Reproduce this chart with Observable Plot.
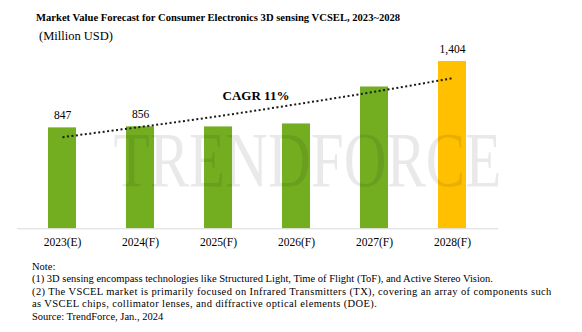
<!DOCTYPE html>
<html><head><meta charset="utf-8">
<script src="https://cdn.jsdelivr.net/npm/d3@7"></script>
<script src="https://cdn.jsdelivr.net/npm/@observablehq/plot@0.6"></script>
<style>
body{margin:0;background:#fff;width:582px;height:332px;overflow:hidden;font-family:"Liberation Serif","Times New Roman",Times,"DejaVu Serif",serif;color:#000}
#title{position:absolute;left:36px;top:11px;font-size:10.6px;font-weight:bold;line-height:14px;white-space:nowrap}
#subtitle{position:absolute;left:39px;top:29px;font-size:12.5px;line-height:14px;white-space:nowrap}
#chart{position:absolute;left:0;top:44px}
#notes{position:absolute;left:32px;top:261px;font-size:10.5px;line-height:12.4px;white-space:nowrap}
#notes .wide{letter-spacing:0.38px}
#chart svg, #chart svg text{font-family:"Liberation Serif","Times New Roman",Times,"DejaVu Serif",serif}
</style></head><body>
<div id="chart"></div><div id="title"></div><div id="subtitle"></div><div id="notes"></div>
<script>
const title = "Market Value Forecast for Consumer Electronics 3D sensing VCSEL, 2023~2028";
const subtitle = "(Million USD)";
const years = ["2023(E)", "2024(F)", "2025(F)", "2026(F)", "2027(F)", "2028(F)"];
const values = [847, 856, 855, 880, 1190, 1404];
const valueLabels = ["847", "856", "", "", "", "1,404"];
const barColors = ["#73ae21", "#73ae21", "#73ae21", "#73ae21", "#73ae21", "#ffc000"];
const trendValues = [769, 855, 945, 1045, 1150, 1264];
const cagrLabel = "CAGR 11%";
const cagrPos = {x: "2025(F)", y: 1118};
const watermark = "TRENDFORCE";
const notes = [
  "Note:",
  "(1) 3D sensing encompass technologies like Structured Light, Time of Flight (ToF), and Active Stereo Vision.",
  "(2) The VSCEL market is primarily focused on Infrared Transmitters (TX), covering an array of components such",
  "as VSCEL chips, collimator lenses, and diffractive optical elements (DOE).",
  "Source: TrendForce, Jan., 2024"
];

document.getElementById("title").textContent = title;
document.getElementById("subtitle").textContent = subtitle;
document.getElementById("notes").innerHTML = notes.map((s, i) => `<div class="${i === 2 || i === 3 ? "wide" : ""}">${s}</div>`).join("");

const data = years.map((y, i) => ({year: y, value: values[i], label: valueLabels[i], color: barColors[i], trend: trendValues[i]}));
const serif = "'Liberation Serif', 'Times New Roman', Times, 'DejaVu Serif', serif";

const chart = Plot.plot({
  width: 582,
  height: 210,
  marginLeft: 17,
  marginRight: 84,
  marginTop: 17,
  marginBottom: 25.7,
  style: {fontFamily: serif, fontSize: "11px", background: "transparent", color: "#000"},
  x: {domain: years, paddingInner: 0.639, paddingOuter: 0.387, label: null},
  y: {domain: [0, d3.max(values)], axis: null},
  marks: [
    Plot.barY(data, {x: "year", y: "value", fill: "color"}),
    Plot.ruleY([0], {stroke: "#d9d9d9", strokeWidth: 1}),
    Plot.text([watermark], {frameAnchor: "top-left", text: d => d, dx: 96, dy: 124, lineAnchor: "bottom", textAnchor: "start", fontSize: 78, fill: "#000", fillOpacity: 0.085, className: "wm"}),
    Plot.line(data, {x: "year", y: "trend", stroke: "#1a1a1a", strokeWidth: 2, strokeDasharray: "2,2.5", strokeLinecap: "butt", curve: "natural"}),
    Plot.text(data, {x: "year", y: "value", text: "label", dy: -12.5, fill: "#000", fontSize: 11.5}),
    Plot.text([cagrPos], {x: "x", y: "y", text: () => cagrLabel, dx: 37.5, fontSize: 13, fontWeight: "bold", fill: "#000"}),
    Plot.axisX({tickSize: 0, tickPadding: 9, fontSize: 11.5, fill: "#000"})
  ]
});
document.getElementById("chart").appendChild(chart);
chart.querySelectorAll(".wm text").forEach(t => { t.setAttribute("textLength", "388"); t.setAttribute("lengthAdjust", "spacingAndGlyphs"); });
</script>
</body></html>
